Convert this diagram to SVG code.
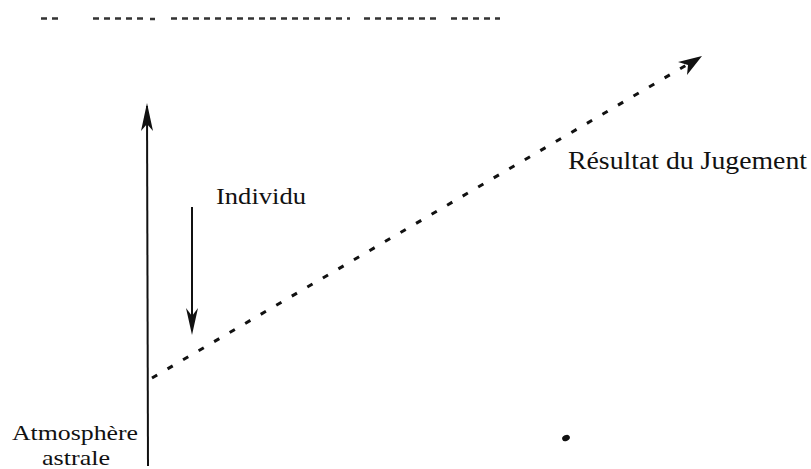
<svg xmlns="http://www.w3.org/2000/svg" width="811" height="469" viewBox="0 0 811 469">
<style>
.t{font-family:"Liberation Serif","DejaVu Serif",serif;fill:#111;}
.ln{stroke:#111;stroke-width:2;fill:none;}
.dash{stroke:#111;stroke-width:3;fill:none;stroke-dasharray:6 12;}
.frag{stroke:#333;stroke-width:2.5;fill:none;stroke-dasharray:6 5;}
</style>
<rect width="811" height="469" fill="#fff"/>
<g id="top-fragment">
<line class="frag" x1="41" y1="18.5" x2="58" y2="18.5" stroke-dasharray="3 9"/>
<line class="frag" x1="93" y1="18.5" x2="145" y2="18.5" stroke-dasharray="4 7"/>
<line class="frag" x1="150" y1="19" x2="155" y2="19"/>
<line class="frag" x1="171" y1="18.5" x2="350" y2="18.5"/>
<line class="frag" x1="364" y1="18.5" x2="440" y2="18.5" stroke-dasharray="8 4"/>
<line class="frag" x1="451" y1="18.5" x2="500" y2="18.5" stroke-dasharray="8 4"/>
</g>
<g id="connectors">
<line class="ln" x1="148" y1="466" x2="147" y2="106"/>
<path d="M147,103 L141,131 L147,124 L153,131 Z" fill="#111"/>
<line class="ln" x1="192" y1="207" x2="192" y2="330"/>
<path d="M192,335 L186,308 L192,316 L198,308 Z" fill="#111"/>
<line class="dash" x1="152" y1="378" x2="690" y2="63"/>
<path d="M702,56 L678,62 L688,65 L687,75 Z" fill="#111"/>
</g>
<g id="individu">
<text class="t" x="216" y="204" font-size="24" textLength="90" lengthAdjust="spacingAndGlyphs">Individu</text>
</g>
<g id="resultat">
<text class="t" x="568" y="169" font-size="26" textLength="239" lengthAdjust="spacingAndGlyphs">Résultat du Jugement</text>
</g>
<g id="atmosphere">
<text class="t" x="12" y="440" font-size="22" textLength="126" lengthAdjust="spacingAndGlyphs">Atmosphère</text>
<text class="t" x="42" y="465" font-size="22" textLength="68" lengthAdjust="spacingAndGlyphs">astrale</text>
</g>
<ellipse cx="566" cy="438" rx="4" ry="3" fill="#111" transform="rotate(-25 566 438)"/>
</svg>
